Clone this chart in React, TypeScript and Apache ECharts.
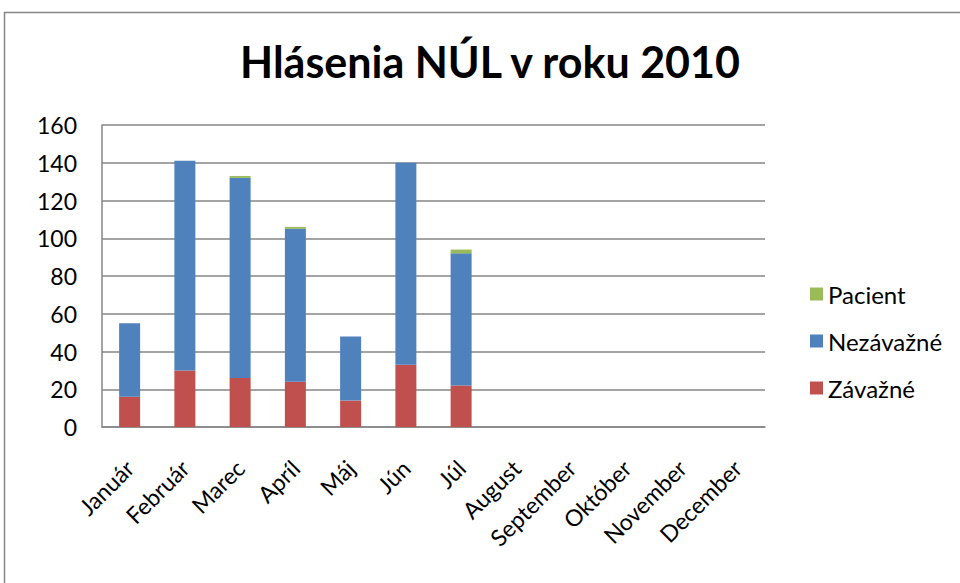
import React, { useEffect, useRef } from "react";
import * as echarts from "echarts";

const months = ["Január", "Február", "Marec", "Apríl", "Máj", "Jún", "Júl", "August", "September", "Október", "November", "December"];
const zavazne = [16, 30, 26, 24, 14, 33, 22, null, null, null, null, null];
const nezavazne = [39, 111, 106, 81, 34, 107, 70, null, null, null, null, null];
const pacient = [0, 0, 1, 1, 0, 0, 2, null, null, null, null, null];
const yTicks = [0, 20, 40, 60, 80, 100, 120, 140, 160];

const FONT = "Lato, 'Open Sans', sans-serif";

export default function App() {
  const ref = useRef<HTMLDivElement>(null);
  useEffect(() => {
    if (!ref.current) return;
    const chart = echarts.init(ref.current, undefined, { renderer: "svg" });
    chart.setOption({
      animation: false,
      backgroundColor: "#ffffff",
      title: {
        text: "Hlásenia NÚL v roku 2010",
        left: 485,
        textAlign: "center",
        top: 35,
        textStyle: { fontFamily: FONT, fontWeight: "bold", fontSize: 43, color: "#000" },
      },
      graphic: [
        {
          type: "rect",
          shape: { x: 4.5, y: 12.5, width: 980, height: 620 },
          style: { fill: "none", stroke: "#868686", lineWidth: 1.5 },
          silent: true,
        },
      ],
      legend: {
        orient: "vertical",
        left: 805,
        top: 277,
        itemWidth: 13,
        itemHeight: 13,
        itemGap: 23,
        icon: "rect",
        data: ["Pacient", "Nezávažné", "Závažné"],
        textStyle: { fontFamily: FONT, fontSize: 24, color: "#000" },
      },
      grid: { left: 102, right: 195, top: 125, bottom: 156, containLabel: false },
      xAxis: {
        type: "category",
        data: months,
        axisLine: { lineStyle: { color: "#868686", width: 1.5 } },
        axisTick: { show: false },
        axisLabel: {
          rotate: 45,
          interval: 0,
          margin: 37,
          fontFamily: FONT,
          fontSize: 23,
          color: "#000",
        },
      },
      yAxis: {
        type: "value",
        min: 0,
        max: 160,
        interval: 20,
        axisLine: { show: true, lineStyle: { color: "#868686", width: 1.5 } },
        axisTick: { show: false },
        splitLine: { lineStyle: { color: "#868686", width: 1.5 } },
        axisLabel: {
          margin: 25,
          fontFamily: FONT,
          fontSize: 23,
          color: "#000",
          formatter: (v: number) => (yTicks.includes(v) ? String(v) : ""),
        },
      },
      series: [
        { name: "Závažné", type: "bar", stack: "s", data: zavazne, barWidth: "38%", itemStyle: { color: "#C0504D" } },
        { name: "Nezávažné", type: "bar", stack: "s", data: nezavazne, barWidth: "38%", itemStyle: { color: "#4F81BD" } },
        { name: "Pacient", type: "bar", stack: "s", data: pacient, barWidth: "38%", itemStyle: { color: "#9BBB59" } },
      ],
    });
    return () => chart.dispose();
  }, []);
  return <div ref={ref} style={{ position: "fixed", left: 0, top: 0, width: 960, height: 583 }} />;
}
